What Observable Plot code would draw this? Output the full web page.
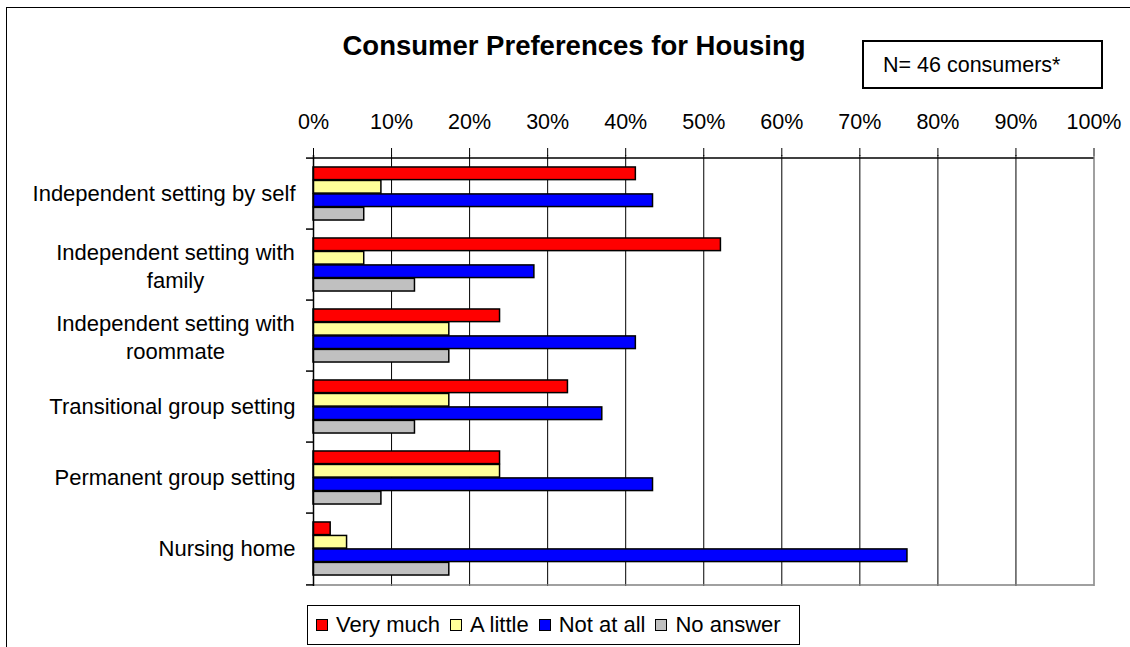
<!DOCTYPE html>
<html><head><meta charset="utf-8">
<script src="https://cdn.jsdelivr.net/npm/d3@7"></script>
<script src="https://cdn.jsdelivr.net/npm/@observablehq/plot@0.6"></script>
<style>
body{margin:0;background:#fff;font-family:"Liberation Sans",Arial,sans-serif;}
#wrap{position:relative;width:1130px;height:647px;overflow:hidden;background:#fff;}
#border{position:absolute;left:6px;top:7px;width:1200px;height:700px;border-top:1.5px solid #000;border-left:1.5px solid #000;}
#chart{position:absolute;left:0;top:0;}
#title{position:absolute;left:574px;top:31.5px;transform:translateX(-50%);font-weight:bold;font-size:27.5px;line-height:27.5px;white-space:nowrap;color:#000;}
#nbox{position:absolute;left:862px;top:40px;width:241px;height:49px;box-sizing:border-box;border:2px solid #000;font-size:21.5px;line-height:21.5px;padding-left:19px;padding-top:12.5px;white-space:nowrap;background:#fff;}
#legend{position:absolute;left:307px;top:605px;width:493px;height:40px;box-sizing:border-box;border:1px solid #000;display:flex;align-items:center;padding-left:8px;font-size:22px;line-height:22px;white-space:nowrap;background:#fff;}
#legend .sw{display:inline-block;width:12px;height:12px;box-sizing:border-box;border:1px solid #000;margin-right:8px;flex:none;}
#legend .it{display:flex;align-items:center;margin-right:10px;}
</style>
</head><body>
<div id="wrap">
  <div id="border"></div>
  <div id="chart"></div>
  <div id="title"></div>
  <div id="nbox"></div>
  <div id="legend"></div>
</div>
<script>
const titleText = "Consumer Preferences for Housing";
const noteText = "N= 46 consumers*";
const categories = [
  "Independent setting by self",
  "Independent setting with family",
  "Independent setting with roommate",
  "Transitional group setting",
  "Permanent group setting",
  "Nursing home"
];
const categoryLines = [
  "Independent setting by self",
  "Independent setting with\nfamily",
  "Independent setting with\nroommate",
  "Transitional group setting",
  "Permanent group setting",
  "Nursing home"
];
const responses = ["Very much", "A little", "Not at all", "No answer"];
const responseColors = ["#FF0000", "#FFFF99", "#0000FF", "#C0C0C0"];
const veryMuch = [41.3, 52.2, 23.9, 32.6, 23.9, 2.2];
const aLittle  = [8.7, 6.5, 17.4, 17.4, 23.9, 4.3];
const notAtAll = [43.5, 28.3, 41.3, 37.0, 43.5, 76.1];
const noAnswer = [6.5, 13.0, 17.4, 13.0, 8.7, 17.4];
const xTicks = [0, 10, 20, 30, 40, 50, 60, 70, 80, 90, 100];

const seriesValues = [veryMuch, aLittle, notAtAll, noAnswer];

const W = 1130, H = 647;
const mTop = 155, mBottom = 61, mLeft = 313, mRight = 36.5;
const bw = (H - mTop - mBottom) / categories.length;
const barH = bw * 0.75 / responses.length;
const padTop = bw * 0.125;

const barMarks = responses.map((r, k) => {
  const rows = categories.map((c, i) => ({category: c, response: r, value: seriesValues[k][i]}));
  return Plot.barX(rows, {
    y: "category", x1: 0, x2: "value",
    fill: responseColors[k], stroke: "#000", strokeWidth: 1.5,
    insetTop: padTop + k * barH,
    insetBottom: bw - padTop - (k + 1) * barH
  });
});

const single = categories.filter((c, i) => !categoryLines[i].includes("\n"));
const multi = categories.filter((c, i) => categoryLines[i].includes("\n"));
const lineOf = c => categoryLines[categories.indexOf(c)];

const chart = Plot.plot({
  width: W, height: H,
  marginTop: mTop, marginBottom: mBottom, marginLeft: mLeft, marginRight: mRight,
  style: {fontFamily: "Liberation Sans, Arial, sans-serif", fontSize: "21.5px", color: "#000", background: "transparent"},
  x: {domain: [0, 100], axis: "top", ticks: xTicks, tickFormat: d => d + "%", tickSize: 8, tickPadding: 19, label: null},
  y: {domain: categories, padding: 0, axis: null},
  marks: [
    Plot.ruleX(xTicks.filter(t => t > 0 && t < 100), {stroke: "#000", strokeWidth: 1}),
    Plot.ruleX([100], {stroke: "#808080", strokeWidth: 1.5}),
    Plot.ruleY([categories[categories.length - 1]], {dy: bw / 2, stroke: "#808080", strokeWidth: 1.5}),
    ...barMarks,
    Plot.ruleY([categories[0]], {dy: -bw / 2, stroke: "#000", strokeWidth: 1.5}),
    Plot.ruleX([0], {stroke: "#000", strokeWidth: 1.5}),
    Plot.ruleY(categories, {x1: 0, x2: 0, insetLeft: -7, dy: -bw / 2, stroke: "#000", strokeWidth: 1.5}),
    Plot.ruleY([categories[categories.length - 1]], {x1: 0, x2: 0, insetLeft: -7, dy: bw / 2, stroke: "#000", strokeWidth: 1.5}),
    Plot.text(single, {y: d => d, text: d => lineOf(d), frameAnchor: "left", textAnchor: "end", dx: -18, fontSize: 22, fill: "#000"}),
    Plot.text(multi, {y: d => d, text: d => lineOf(d), frameAnchor: "left", textAnchor: "middle", dx: -138, lineHeight: 1.29, fontSize: 22, fill: "#000"})
  ]
});
document.getElementById("chart").appendChild(chart);
document.getElementById("title").textContent = titleText;
document.getElementById("nbox").textContent = noteText;
const lg = document.getElementById("legend");
responses.forEach((r, k) => {
  const it = document.createElement("span");
  it.className = "it";
  const sw = document.createElement("span");
  sw.className = "sw";
  sw.style.background = responseColors[k];
  it.appendChild(sw);
  it.appendChild(document.createTextNode(r));
  lg.appendChild(it);
});
</script>
</body></html>
